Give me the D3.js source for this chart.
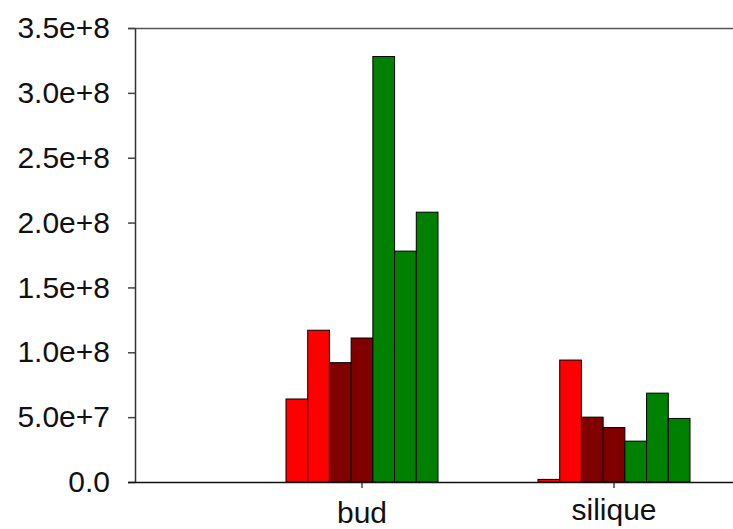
<!DOCTYPE html>
<html>
<head>
<meta charset="utf-8">
<script src="https://cdn.jsdelivr.net/npm/d3@7"></script>
<style>
  body { margin: 0; background: #fff; }
  svg { display: block; }
  text { font-family: "Liberation Sans", Arial, sans-serif; }
</style>
</head>
<body>
<svg width="733" height="529"></svg>
<script>
// data
const categories = ["bud", "silique"];
const seriesNames = ["s1", "s2", "s3", "s4", "s5", "s6", "s7"];
const seriesColors = ["#ff0000", "#ff0000", "#800000", "#800000", "#008000", "#008000", "#008000"];
const budValues = [6.4e7, 1.17e8, 9.2e7, 1.11e8, 3.28e8, 1.78e8, 2.08e8];
const siliqueValues = [2.0e6, 9.4e7, 5.0e7, 4.2e7, 3.15e7, 6.85e7, 4.9e7];
const yTicks = [0, 5e7, 1e8, 1.5e8, 2e8, 2.5e8, 3e8, 3.5e8];
const yTickLabels = ["0.0", "5.0e+7", "1.0e+8", "1.5e+8", "2.0e+8", "2.5e+8", "3.0e+8", "3.5e+8"];

const valuesByCat = { bud: budValues, silique: siliqueValues };

const svg = d3.select("svg");

const plotLeft = 135, plotRight = 733, plotTop = 28, plotBottom = 482;

const y = d3.scaleLinear()
  .domain([0, 3.5e8])
  .range([plotBottom, plotTop]);

// outer bands for the two groups
const x = d3.scaleBand()
  .domain(categories)
  .range([236, 740])
  .padding(0);

// bars inside a group
const xInner = d3.scaleBand()
  .domain(seriesNames)
  .range([50, 202])
  .padding(0);

// top frame line
svg.append("line")
  .attr("x1", plotLeft - 7).attr("x2", plotRight)
  .attr("y1", plotTop + 0.5).attr("y2", plotTop + 0.5)
  .attr("stroke", "#555")
  .attr("stroke-width", 1.5);

// bars
const groups = svg.selectAll("g.grp")
  .data(categories)
  .join("g")
  .attr("class", "grp")
  .attr("transform", d => `translate(${x(d)},0)`);

groups.selectAll("rect")
  .data(c => valuesByCat[c].map((v, i) => ({ v, s: seriesNames[i], color: seriesColors[i] })))
  .join("rect")
  .attr("x", d => xInner(d.s))
  .attr("y", d => y(d.v))
  .attr("width", xInner.bandwidth())
  .attr("height", d => plotBottom - y(d.v))
  .attr("fill", d => d.color)
  .attr("stroke", "#000")
  .attr("stroke-width", 1);

// y axis
const yAxis = svg.append("g")
  .attr("transform", `translate(${plotLeft},0)`)
  .call(d3.axisLeft(y)
    .tickValues(yTicks)
    .tickFormat((d, i) => yTickLabels[i])
    .tickSize(7)
    .tickSizeOuter(0)
    .tickPadding(18));

yAxis.select(".domain").attr("stroke", "#333").attr("stroke-width", 1.5);
yAxis.selectAll(".tick line").attr("stroke", "#444").attr("stroke-width", 1.5);
yAxis.selectAll(".tick text")
  .attr("font-size", 30)
  .attr("fill", "#111")
  .attr("font-family", "'Liberation Sans', Arial, sans-serif");

// x axis
const xAxis = svg.append("g")
  .attr("transform", `translate(0,${plotBottom})`)
  .call(d3.axisBottom(x)
    .tickSize(6)
    .tickSizeOuter(0)
    .tickPadding(16));

xAxis.select(".domain").remove();
xAxis.append("line")
  .attr("x1", plotLeft - 7).attr("x2", plotRight)
  .attr("y1", 0.5).attr("y2", 0.5)
  .attr("stroke", "#111")
  .attr("stroke-width", 1.5);
xAxis.selectAll(".tick line").attr("stroke", "#444").attr("stroke-width", 1.5);
xAxis.selectAll(".tick text")
  .attr("font-size", 30)
  .attr("fill", "#111")
  .attr("font-family", "'Liberation Sans', Arial, sans-serif")
  .attr("dy", null)
  .attr("y", d => d === "silique" ? 38 : 41);
</script>
</body>
</html>
